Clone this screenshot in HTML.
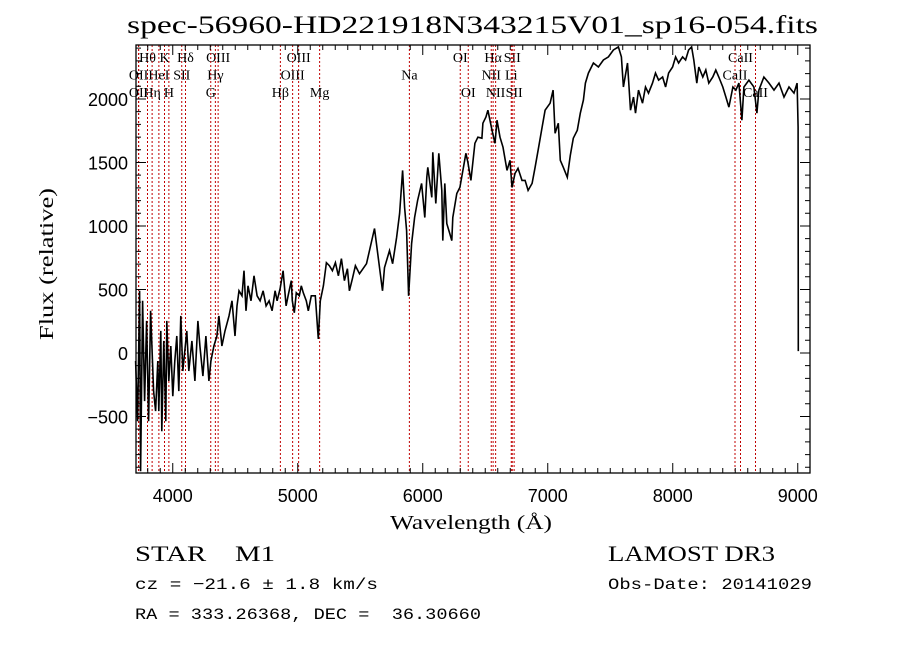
<!DOCTYPE html>
<html><head><meta charset="utf-8"><style>
body{margin:0;background:#fff;}
svg{display:block;}
</style></head><body>
<svg id="chart" width="900" height="649" viewBox="0 0 900 649" xmlns="http://www.w3.org/2000/svg">
<rect width="900" height="649" fill="#fff"/>
<text x="127" y="33" textLength="691" lengthAdjust="spacingAndGlyphs" font-family="Liberation Serif, serif" font-size="25">spec-56960-HD221918N343215V01_sp16-054.fits</text>
<g id="lines-g"></g>
<g id="spec-g"></g>
<g id="axes-g"></g>
<text x="390" y="529" textLength="162" lengthAdjust="spacingAndGlyphs" font-family="Liberation Serif, serif" font-size="20">Wavelength (Å)</text>
<text transform="translate(53,340) rotate(-90)" textLength="152" lengthAdjust="spacingAndGlyphs" font-family="Liberation Serif, serif" font-size="20">Flux (relative)</text>
<text x="135" y="561" textLength="140" lengthAdjust="spacingAndGlyphs" font-family="Liberation Serif, serif" font-size="22" xml:space="preserve">STAR    M1</text>
<text x="608" y="561" textLength="167" lengthAdjust="spacingAndGlyphs" font-family="Liberation Serif, serif" font-size="22">LAMOST DR3</text>
<text x="135" y="589" textLength="243" lengthAdjust="spacingAndGlyphs" font-family="Liberation Mono, monospace" font-size="16">cz = −21.6 ± 1.8 km/s</text>
<text x="608" y="589" textLength="204" lengthAdjust="spacingAndGlyphs" font-family="Liberation Mono, monospace" font-size="16">Obs-Date: 20141029</text>
<text x="135" y="619" textLength="346" lengthAdjust="spacingAndGlyphs" font-family="Liberation Mono, monospace" font-size="16" xml:space="preserve">RA = 333.26368, DEC =  36.30660</text>
</svg>
<script>
const wavelengths=[3703,3719,3735,3743,3759,3775,3791,3807,3823,3847,3863,3880,3888,3904,3912,3928,3944,3952,3968,3984,4000,4016,4032,4048,4064,4080,4112,4128,4153,4177,4201,4217,4241,4265,4289,4305,4329,4353,4369,4393,4418,4450,4474,4498,4514,4530,4554,4570,4586,4602,4626,4650,4675,4699,4723,4747,4771,4795,4819,4835,4859,4883,4907,4923,4948,4956,4972,4988,5012,5028,5044,5068,5084,5108,5140,5164,5180,5205,5229,5253,5277,5301,5325,5349,5373,5397,5413,5437,5461,5494,5550,5614,5678,5694,5734,5759,5791,5815,5839,5855,5871,5887,5911,5935,5959,5991,6016,6032,6040,6072,6080,6104,6128,6152,6160,6176,6192,6216,6232,6240,6272,6297,6321,6345,6361,6385,6417,6441,6473,6481,6505,6521,6554,6578,6594,6618,6642,6674,6698,6714,6738,6762,6794,6819,6843,6875,6899,6923,6955,6979,7019,7043,7059,7084,7100,7124,7156,7180,7204,7236,7260,7285,7301,7325,7365,7405,7445,7485,7525,7565,7589,7605,7638,7662,7686,7702,7726,7758,7782,7806,7838,7862,7887,7919,7943,7967,7999,8023,8047,8079,8103,8127,8151,8168,8192,8208,8240,8264,8288,8320,8344,8368,8400,8425,8449,8481,8505,8529,8553,8569,8609,8649,8673,8689,8729,8770,8810,8850,8890,8930,8970,8995,9003,9004];
const fluxes=[-63,-537,490,-932,411,-379,253,-537,332,-300,-458,-63,-458,174,-616,95,-537,253,-221,55,-340,-63,134,-300,292,-142,174,-142,95,-221,253,55,-182,134,-221,-63,55,134,292,55,174,292,411,134,371,490,450,648,332,529,411,608,450,411,490,371,411,332,490,411,506,648,371,450,569,411,316,474,450,529,474,411,332,450,450,111,411,529,711,687,648,711,608,743,569,664,490,585,687,624,703,980,490,672,806,703,909,1098,1438,1146,964,450,861,1067,1201,1335,1067,1383,1462,1225,1580,1177,1572,1280,885,1335,1019,940,885,1067,1256,1304,1438,1572,1501,1359,1651,1699,1691,1809,1857,1912,1754,1651,1833,1699,1620,1438,1517,1304,1414,1454,1359,1359,1280,1335,1462,1596,1778,1912,1967,2070,1730,1809,1517,1462,1383,1556,1691,1754,1888,1991,2125,2204,2283,2252,2307,2331,2386,2410,2331,2094,2283,1912,2015,1888,2070,1967,2094,2046,2125,2204,2149,2173,2094,2204,2252,2331,2283,2331,2307,2386,2410,2307,2125,2252,2173,2228,2125,2173,2228,2173,2094,2015,1936,2094,2070,2125,1833,2094,2149,2094,1888,2070,2173,2125,2070,2125,2015,2094,2046,2125,1778,15];
const lineWaves=[3798,3934,4102,4363,5007,6300,6563,6716,8542,3727,3889,4072,4341,4959,5893,6548,6708,8498,3727,3835,3969,4304,4861,5175,6364,6583,6731,8662];
const lineLabels=["Hθ","K","Hδ","OIII","OIII","OI","Hα","SII","CaII","OII","HeI","SII","Hγ","OIII","Na","NII","Li","CaII","OII","Hη","H","G","Hβ","Mg","OI","NII","SII","CaII"];
const lineRows=[0,0,0,0,0,0,0,0,0,1,1,1,1,1,1,1,1,1,2,2,2,2,2,2,2,2,2,2];
const xTicks=[4000,5000,6000,7000,8000,9000];
const yTicks=[-500,0,500,1000,1500,2000];

const X0=136,X1=810,Y0=45,Y1=473;
const xmin=3706,xmax=9098,ymin=-945,ymax=2425;
const NS="http://www.w3.org/2000/svg";
function sx(w){return X0+(w-xmin)/(xmax-xmin)*(X1-X0);}
function sy(f){return Y1-(f-ymin)/(ymax-ymin)*(Y1-Y0);}
function mk(tag,attrs,parent){const e=document.createElementNS(NS,tag);for(const k in attrs)e.setAttribute(k,attrs[k]);parent.appendChild(e);return e;}

const lg=document.getElementById('lines-g');
for(let i=0;i<lineWaves.length;i++){
  const x=sx(lineWaves[i]);
  const l=mk('line',{x1:x,x2:x,y1:Y0,y2:Y1,stroke:'#c00000','stroke-width':1,'stroke-dasharray':'2,2'},lg);
  
  
  const t=mk('text',{x:x,y:62+lineRows[i]*17.5,'text-anchor':'middle','font-family':'Liberation Serif, serif','font-size':14},lg);
  t.textContent=lineLabels[i];
  
  
}

const sg=document.getElementById('spec-g');
let d='';
for(let i=0;i<wavelengths.length;i++){d+=(i?'L':'M')+sx(wavelengths[i]).toFixed(1)+','+Math.min(Y1,Math.max(Y0,sy(fluxes[i]))).toFixed(1);}
const p=mk('path',{d:d,fill:'none',stroke:'#000','stroke-width':1.6,'stroke-linejoin':'miter'},sg);



const ag=document.getElementById('axes-g');
const box=mk('rect',{x:X0,y:Y0,width:X1-X0,height:Y1-Y0,fill:'none',stroke:'#000','stroke-width':1.3},ag);


let td='';
for(let w=3800;w<=9000;w+=100){const x=sx(w);const maj=(w%1000===0);const L=maj?10:5;td+=`M${x},${Y1}V${Y1-L}M${x},${Y0}V${Y0+L}`;}
for(let f=-900;f<=2400;f+=100){const y=sy(f);const maj=(f%500===0);const L=maj?10:5;td+=`M${X0},${y}H${X0+L}M${X1},${y}H${X1-L}`;}
const ticks=mk('path',{d:td,stroke:'#000','stroke-width':1,fill:'none'},ag);


xTicks.forEach(v=>{const t=mk('text',{x:sx(v),y:502,'text-anchor':'middle','font-family':'Liberation Sans, sans-serif','font-size':18},ag);t.textContent=v;
  
  });
yTicks.forEach(v=>{const t=mk('text',{x:128,y:sy(v)+7,'text-anchor':'end','font-family':'Liberation Sans, sans-serif','font-size':18},ag);t.textContent=(v<0?'−'+(-v):v);
  
  });
</script>
</body></html>
